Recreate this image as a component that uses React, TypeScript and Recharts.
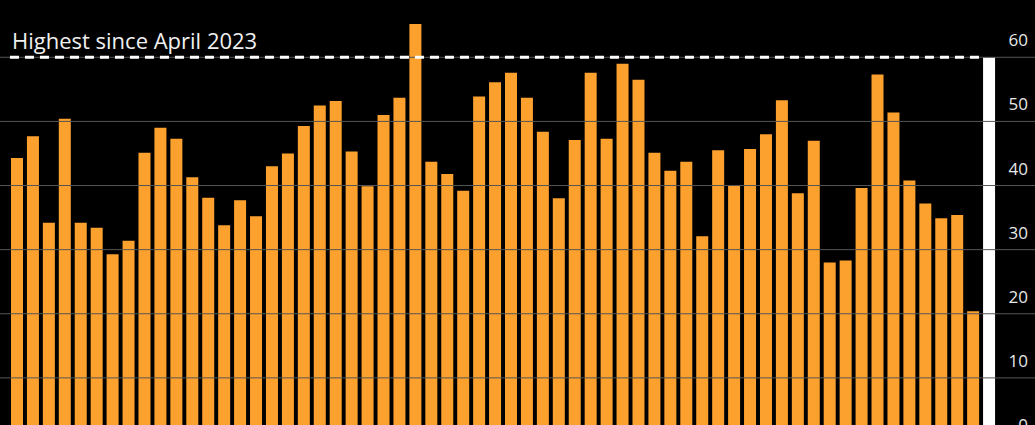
import { BarChart, Bar, XAxis, YAxis, ReferenceLine, Cell } from "recharts";

// monthly readings, oldest first (orange bars)
const readings = [
  44.3, 47.7, 34.2, 50.4, 34.2, 33.4, 29.3, 31.4, 45.1, 49.0,
  47.3, 41.3, 38.1, 33.8, 37.7, 35.2, 43.0, 45.0, 49.3, 52.5,
  53.2, 45.3, 39.9, 51.0, 53.7, 65.2, 43.7, 41.8, 39.2, 53.9,
  56.1, 57.6, 53.7, 48.4, 38.0, 47.1, 57.6, 47.3, 59.0, 56.5,
  45.1, 42.3, 43.7, 32.1, 45.5, 40.0, 45.7, 48.0, 53.3, 38.8,
  47.0, 28.0, 28.3, 39.6, 57.3, 51.4, 40.8, 37.2, 34.9, 35.4,
  20.4,
];
// latest reading, drawn in white
const latestReading = 60;
const highestMark = 60;
const highestLabel = "Highest since April 2023";
const yTicks = [0, 10, 20, 30, 40, 50, 60];

const ORANGE = "#FCA12D";
const FONT = "'Open Sans', 'Noto Sans', sans-serif";

// each month sits in the middle of its own slot on a numeric axis
const data = [...readings, latestReading].map((v, i) => ({
  slot: i + 0.5,
  value: v,
  latest: i === readings.length,
}));
const slotCount = data.length;

function TickLabel(props: any) {
  const vb = props.viewBox;
  if (!vb) return null;
  return (
    <text x={vb.x + vb.width - 7} y={vb.y - 11} textAnchor="end" fill="#e8e8e8" fontSize={17} fontFamily={FONT}>
      {props.text}
    </text>
  );
}

function HighestLabel(props: any) {
  const vb = props.viewBox;
  if (!vb) return null;
  return (
    <text x={vb.x + 2} y={vb.y - 8} fill="#f0f0f0" fontSize={22} fontFamily={FONT}>
      {highestLabel}
    </text>
  );
}

export default function App() {
  return (
    <div
      style={{
        position: "fixed",
        top: 0,
        left: 0,
        width: 1035,
        height: 425,
        overflow: "hidden",
        background: "#000",
      }}
    >
      <BarChart
        width={1035}
        height={442}
        data={data}
        margin={{ top: 6, right: 0, bottom: 0, left: 0 }}
      >
        <XAxis dataKey="slot" type="number" domain={[0, slotCount]} hide padding={{ left: 9, right: 38 }} />
        <YAxis hide domain={[0, 68]} ticks={yTicks} />
        {yTicks.map((t) => (
          <ReferenceLine
            key={t}
            y={t}
            stroke="#555"
            strokeWidth={1}
            label={<TickLabel text={t} />}
          />
        ))}
        <Bar dataKey="value" barSize={12} isAnimationActive={false}>
          {data.map((d) => (
            <Cell key={d.slot} fill={d.latest ? "#ffffff" : ORANGE} />
          ))}
        </Bar>
        <ReferenceLine
          segment={[
            { x: 0.06, y: highestMark },
            { x: 61.1, y: highestMark },
          ]}
          stroke="#ffffff"
          strokeWidth={3}
          strokeDasharray="9 6"
          label={<HighestLabel />}
        />
      </BarChart>
    </div>
  );
}
